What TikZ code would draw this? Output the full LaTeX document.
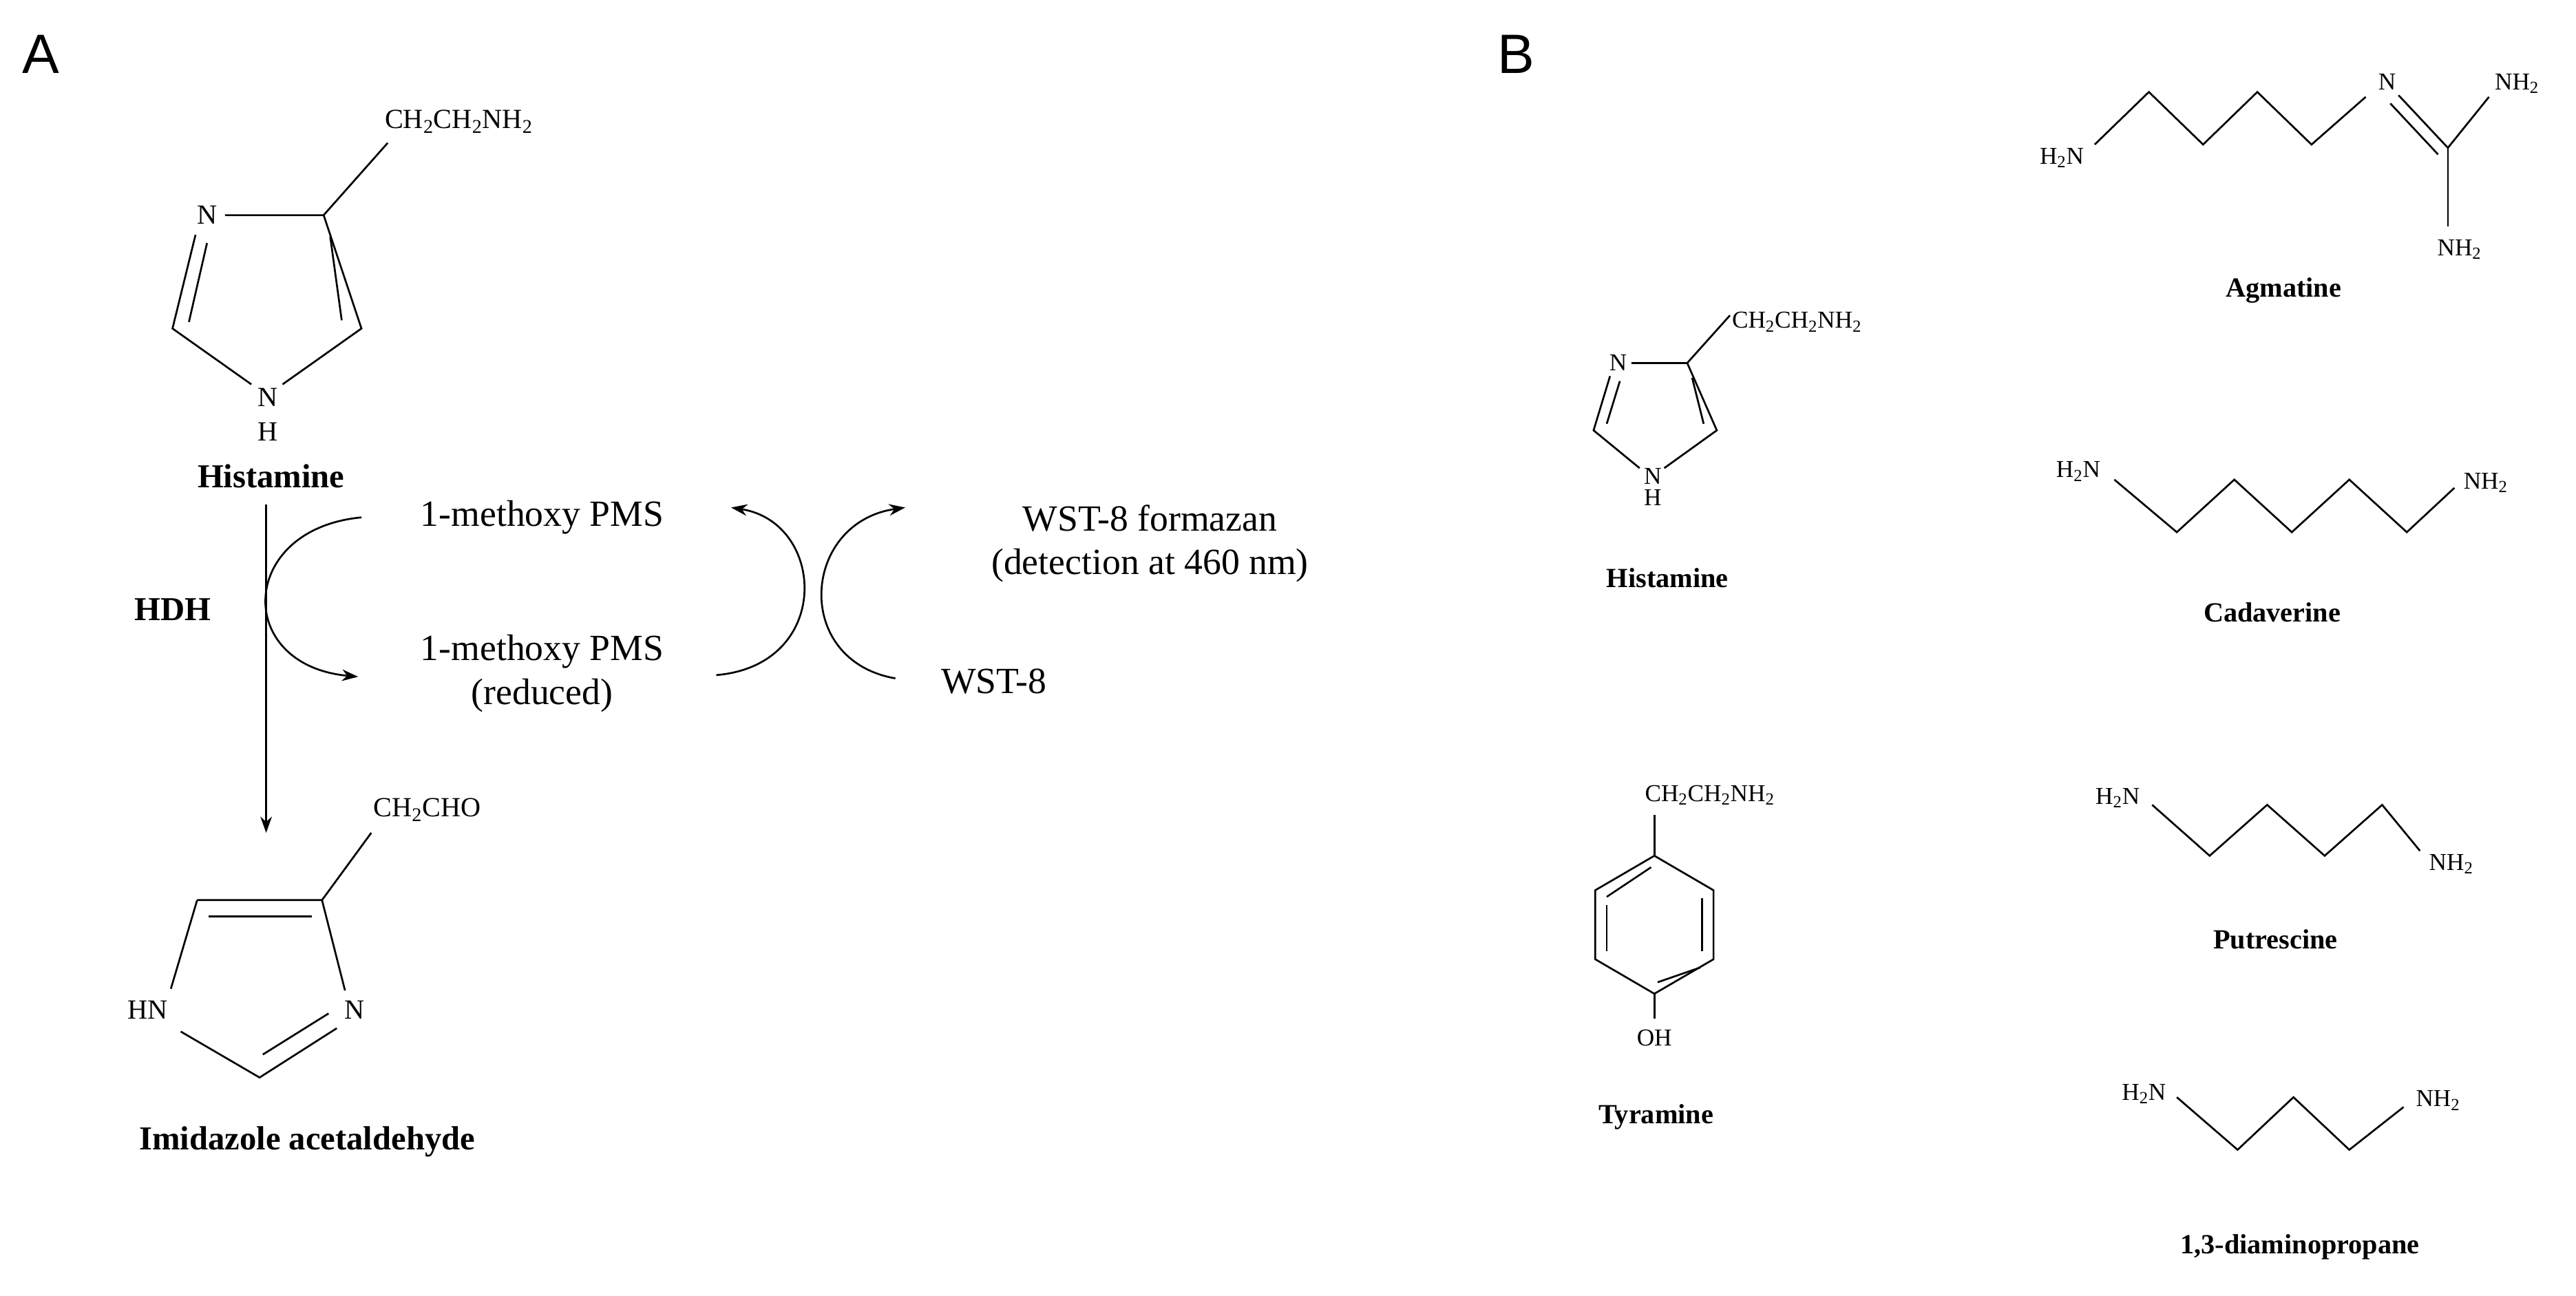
\documentclass[tikz,border=0pt]{standalone}
\usepackage{fontspec}
\setmainfont{Liberation Serif}
\setsansfont{Liberation Sans}
\usetikzlibrary{arrows.meta}
\begin{document}
\begin{tikzpicture}[x=0.05cm,y=-0.05cm,line width=1.6pt,
  lab/.style={inner sep=1pt,font=\fontsize{24}{26}\selectfont},
  labs/.style={inner sep=1pt,font=\fontsize{21}{23}\selectfont},
  txt/.style={inner sep=1pt,align=center,font=\fontsize{32}{38}\selectfont},
  mname/.style={inner sep=1pt,font=\bfseries\fontsize{29}{32}\selectfont},
  mnames/.style={inner sep=1pt,font=\bfseries\fontsize{24}{26}\selectfont},
  paneltag/.style={inner sep=0pt,font=\sffamily\fontsize{48}{50}\selectfont},
  arr/.style={-{Stealth[length=14pt,width=10pt]}}]
\useasboundingbox (0,0) rectangle (1568,789);
\node[paneltag] (pa) at (25,33) {A};
\node[paneltag] (pb) at (923,33) {B};
% Histamine A
\node[lab] (hN3) at (126,131) {N};
\node[lab] (hN1) at (163,242) {N};
\node[lab] (hH) at (163,263) {H};
\node[lab,anchor=west] (hsub) at (233,74) {CH\textsubscript{2}CH\textsubscript{2}NH\textsubscript{2}};
\draw (137,131) -- (197,131) -- (220,200) -- (172,234);
\draw (197,131) -- (236,87);
\draw (201,144) -- (208,195);
\draw (153,234) -- (105,200) -- (119,143);
\draw (115,196) -- (126,148);
\node[mname] (hist) at (165,290) {Histamine};
\node[mname] (hdh) at (105,371) {HDH};
\coordinate (as) at (162,307);
\coordinate (ae) at (162,507);
\draw[arr] (as) -- (ae);
% Imidazole acetaldehyde
\node[lab,anchor=west] (isub) at (226,493) {CH\textsubscript{2}CHO};
\node[lab] (iN) at (216,615) {N};
\node[lab] (iHN) at (90,615) {HN};
\draw (196,548) -- (226,507);
\draw (120,548) -- (196,548) -- (210,603);
\draw (127,558) -- (190,558);
\draw (205,626) -- (158,656) -- (110,628);
\draw (200,617) -- (160,642);
\draw (104,602) -- (120,548);
\node[mname] (iname) at (187,695) {Imidazole acetaldehyde};
% cycle
\node[txt] (pms) at (330,315) {1-methoxy PMS};
\node[txt] (pmsr) at (330,410) {1-methoxy PMS\\(reduced)};
\node[txt] (form) at (700,331) {WST-8 formazan\\(detection at 460 nm)};
\node[txt] (wst) at (605,415) {WST-8};
\coordinate (l1) at (220,315);
\coordinate (l2) at (218,412);
\draw[arr] (l1) .. controls (145,322) and (142,405) .. (l2);
\coordinate (r1) at (436,411);
\coordinate (r2) at (445,309);
\draw[arr] (r1) .. controls (507,405) and (503,318) .. (r2);
\coordinate (w1) at (545,413);
\coordinate (w2) at (551,309);
\draw[arr] (w1) .. controls (482,402) and (488,318) .. (w2);
% Histamine B
\node[labs] (bN3) at (985,221) {N};
\node[labs] (bN1) at (1006,290) {N};
\node[labs] (bH) at (1006,303) {H};
\node[labs,anchor=west] (bsub) at (1053,196) {CH\textsubscript{2}CH\textsubscript{2}NH\textsubscript{2}};
\draw (993,221) -- (1027,221) -- (1045,262) -- (1013,285);
\draw (1027,221) -- (1053,192);
\draw (1030,230) -- (1037,258);
\draw (998,285) -- (970,262) -- (980,229);
\draw (978,258) -- (986,232);
\node[mnames] (bhist) at (1015,352) {Histamine};
% Tyramine
\node[labs,anchor=west] (tsub) at (1000,484) {CH\textsubscript{2}CH\textsubscript{2}NH\textsubscript{2}};
\node[labs] (toh) at (1007,632) {OH};
\draw (1007,496) -- (1007,521);
\draw (1007,521) -- (1043,542) -- (1043,584) -- (1007,605) -- (971,584) -- (971,542) -- cycle;
\draw (1036,547) -- (1036,579);
\draw (1035,589) -- (1009,598);
\draw (1005,528) -- (978,546);
\draw (978,551) -- (978,579);
\draw (1007,605) -- (1007,620);
\node[mnames] (tname) at (1008,680) {Tyramine};
% Agmatine
\node[labs] (aH2N) at (1255,96) {H\textsubscript{2}N};
\node[labs] (aN) at (1453,50) {N};
\node[labs] (aNH2a) at (1532,51) {NH\textsubscript{2}};
\node[labs] (aNH2b) at (1497,152) {NH\textsubscript{2}};
\draw (1275,88) -- (1308,56) -- (1341,88) -- (1374,56) -- (1407,88) -- (1440,59);
\draw (1460,58) -- (1490,90);
\draw (1455,63) -- (1484,94);
\draw (1490,90) -- (1515,59);
\draw (1490,90) -- (1490,138);
\node[mnames] (aname) at (1390,177) {Agmatine};
% Cadaverine
\node[labs] (cH2N) at (1265,287) {H\textsubscript{2}N};
\node[labs] (cNH2) at (1513,294) {NH\textsubscript{2}};
\draw (1287,292) -- (1325,324) -- (1360,292) -- (1395,324) -- (1430,292) -- (1465,324) -- (1494,297);
\node[mnames] (cname) at (1383,373) {Cadaverine};
% Putrescine
\node[labs] (pH2N) at (1289,486) {H\textsubscript{2}N};
\node[labs] (pNH2) at (1492,526) {NH\textsubscript{2}};
\draw (1310,490) -- (1345,521) -- (1380,490) -- (1415,521) -- (1450,490) -- (1473,518);
\node[mnames] (pname) at (1385,572) {Putrescine};
% 1,3-diaminopropane
\node[labs] (dH2N) at (1305,666) {H\textsubscript{2}N};
\node[labs] (dNH2) at (1484,670) {NH\textsubscript{2}};
\draw (1325,668) -- (1362,700) -- (1396,668) -- (1430,700) -- (1463,674);
\node[mnames] (dname) at (1400,759) {1,3-diaminopropane};
\end{tikzpicture}
\end{document}
